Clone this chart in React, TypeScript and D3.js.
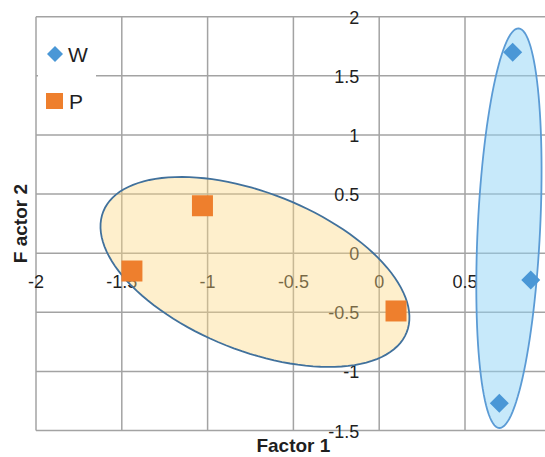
import React from "react";
import * as d3 from "d3";

// ---- data ----
const xTicks = [-2, -1.5, -1, -0.5, 0, 0.5, 1];
const yTicks = [2, 1.5, 1, 0.5, 0, -0.5, -1, -1.5];
const wX = [0.778, 0.883, 0.7];
const wY = [1.7, -0.227, -1.27];
const pX = [-1.441, -1.03, 0.098];
const pY = [-0.151, 0.401, -0.489];
const legendLabels = ["W", "P"];
const axisTitles = ["Factor 1", "F actor 2"];
// ellipses: centre, half-major vector, half-minor vector (data units)
const ellipseP = [-0.724, -0.159, 0.884, -0.511, -0.17, -0.62];
const ellipseW = [0.756, 0.211, 0.0565, 1.69, 0.1816, -0.0129];

const W = 545;
const H = 457;
const FONT = "'Liberation Sans', Arial, sans-serif";

export default function App() {
  const x = d3.scaleLinear().domain([-2, 1]).range([36, 550.8]);
  const y = d3.scaleLinear().domain([-1.5, 2]).range([430.5, 16.7]);

  const ellipsePath = (e: number[]) => {
    const [cx, cy, ax, ay, bx, by] = e;
    const pts: [number, number][] = d3.range(0, 120).map((i) => {
      const t = (i / 120) * Math.PI * 2;
      return [
        x(cx + ax * Math.cos(t) + bx * Math.sin(t)),
        y(cy + ay * Math.cos(t) + by * Math.sin(t)),
      ];
    });
    return d3.line().curve(d3.curveLinearClosed)(pts) || "";
  };

  const grid = "#a3a3a3";
  const txt = "#1f1f1f";
  const blue = "#4a97d6";
  const orange = "#ee7f2d";

  const diamond = (cx: number, cy: number, r: number) =>
    `M${cx},${cy - r}L${cx + r},${cy}L${cx},${cy + r}L${cx - r},${cy}Z`;

  return (
    <svg
      width={W}
      height={H}
      style={{ position: "absolute", left: 0, top: 0, background: "#fff" }}
      fontFamily={FONT}
    >
      <rect x={0} y={0} width={W} height={H} fill="#fff" />
      {/* grid */}
      {xTicks.map((v) => (
        <line key={"gx" + v} x1={x(v)} x2={x(v)} y1={y(2)} y2={y(-1.5)} stroke={grid} strokeWidth={1.5} />
      ))}
      {yTicks.map((v) => (
        <line key={"gy" + v} x1={x(-2)} x2={x(1)} y1={y(v)} y2={y(v)} stroke={grid} strokeWidth={1.5} />
      ))}
      {/* x tick labels */}
      {xTicks.filter((v) => v < 1).map((v) => (
        <text key={"tx" + v} x={x(v)} y={y(0) + 29} textAnchor="middle" dominantBaseline="central" fontSize={18} fill={txt}>
          {String(v)}
        </text>
      ))}
      {/* y tick labels */}
      {yTicks.map((v) => (
        <text key={"ty" + v} x={x(0) - 20} y={y(v) + 1} textAnchor="end" dominantBaseline="central" fontSize={18} fill={txt}>
          {String(v)}
        </text>
      ))}
      {/* ellipses */}
      <path d={ellipsePath(ellipseP)} fill="#fcd77f" fillOpacity={0.4} stroke="#41719c" strokeWidth={1.8} />
      <path d={ellipsePath(ellipseW)} fill="#8fd3f5" fillOpacity={0.5} stroke="#5b9bd5" strokeWidth={1.8} />
      {/* markers */}
      {pX.map((v, i) => (
        <rect key={"p" + i} x={x(v) - 10.5} y={y(pY[i]) - 10.5} width={21} height={21} fill={orange} />
      ))}
      {wX.map((v, i) => (
        <path key={"w" + i} d={diamond(x(v), y(wY[i]), 9.5)} fill={blue} />
      ))}
      {/* axis titles */}
      <text x={(x(-2) + x(1)) / 2} y={452} textAnchor="middle" fontSize={19} fontWeight="bold" fill={txt}>
        {axisTitles[0]}
      </text>
      <text
        transform={`translate(20,${(y(2) + y(-1.5)) / 2}) rotate(-90)`}
        textAnchor="middle"
        dominantBaseline="central"
        fontSize={19}
        fontWeight="bold"
        fill={txt}
        style={{ whiteSpace: "pre" }}
      >
        {axisTitles[1]}
      </text>
      {/* legend */}
      <rect x={38} y={30} width={58} height={88} fill="#fff" />
      <path d={diamond(55, 54, 8)} fill={blue} />
      <text x={68} y={54} dominantBaseline="central" fontSize={21} fill={txt}>
        {legendLabels[0]}
      </text>
      <rect x={46} y={93} width={17} height={16} fill={orange} />
      <text x={69} y={101} dominantBaseline="central" fontSize={21} fill={txt}>
        {legendLabels[1]}
      </text>
    </svg>
  );
}
